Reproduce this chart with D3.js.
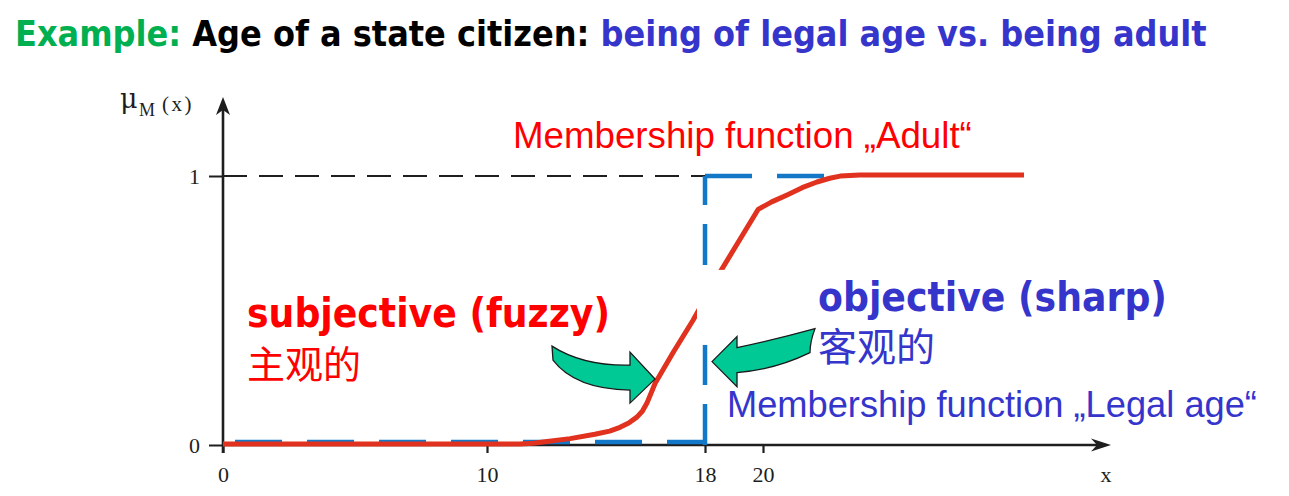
<!DOCTYPE html>
<html><head><meta charset="utf-8">
<script src="https://cdn.jsdelivr.net/npm/d3@7"></script>
<style>body{margin:0;background:#fff} svg{display:block} text{white-space:pre}</style>
</head><body>
<svg id="c" width="1289" height="496"></svg>
<script>
// ---- data ----
const adultX = [0, 11.2, 11.7, 12.13, 13.05, 13.96, 14.5, 14.88, 15.2, 15.5, 15.7, 15.87, 16.17, 16.83, 17.56, 18.52, 19.83, 20.3, 20.83, 21.35, 21.86, 22.3, 22.66, 23.34, 29];
const adultY = [0, 0, 0.003, 0.008, 0.02, 0.036, 0.048, 0.062, 0.078, 0.1, 0.122, 0.152, 0.226, 0.34, 0.46, 0.639, 0.872, 0.9, 0.926, 0.953, 0.974, 0.988, 0.996, 1, 1];
const legalX = [0, 18, 18, 22.3];
const legalY = [0, 0, 1, 1];
const xTicks = [0, 10, 18, 20];
const yTicks = [0, 1];
const legalAge = 18;
const titleParts = ["Example: ", "Age of a state citizen: ", "being of legal age vs. being adult"];

// ---- layout ----
const svg = d3.select("#c");
const xs = d3.scaleLinear().domain([0, 10, 18, 20]).range([223, 487, 705, 763]);
const ys = d3.scaleLinear().domain([0, 1]).range([445, 176]);
const AX = "#1e1e1e";
const RED = "#E0321E", BLUE = "#1478C8", TXT_BLUE = "#3535CC", TXT_RED = "#FF0000";
const BOLD = "'DejaVu Sans Condensed', 'DejaVu Sans', Verdana, sans-serif";
const SANS = "'Liberation Sans', Arial, sans-serif";
const SERIF = "'Liberation Serif', 'Times New Roman', serif";
const CJK = "'Noto Sans CJK SC', sans-serif";

function fit(sel, width) {
  const w = sel.node().getComputedTextLength();
  const fs = parseFloat(sel.attr("font-size"));
  sel.attr("font-size", fs * width / w);
  return sel;
}

// title
const title = svg.append("text").attr("x", 15).attr("y", 46)
  .attr("font-family", BOLD).attr("font-weight", "bold").attr("font-size", 32);
const tcols = ["#00B050", "#000000", TXT_BLUE];
titleParts.forEach((t, i) => title.append("tspan").attr("fill", tcols[i]).text(t));
fit(title, 1192);

// x axis
const gx = svg.append("g").attr("transform", `translate(0,${ys(0)})`)
  .call(d3.axisBottom(xs).tickValues(xTicks).tickSize(8).tickPadding(13).tickFormat(d3.format("d")));
gx.select(".domain").remove();
gx.selectAll(".tick line").attr("stroke", AX).attr("stroke-width", 2.2);
gx.selectAll(".tick text").attr("font-family", SERIF).attr("font-size", 22).attr("fill", AX);

// y axis
const gy = svg.append("g").attr("transform", `translate(${xs(0)},0)`)
  .call(d3.axisLeft(ys).tickValues(yTicks).tickSize(14).tickPadding(9).tickFormat(d3.format("d")));
gy.select(".domain").remove();
gy.selectAll(".tick line").attr("stroke", AX).attr("stroke-width", 2);
gy.selectAll(".tick text").attr("font-family", SERIF).attr("font-size", 22).attr("fill", AX);

// axis lines with arrows
const xEnd = 32, yEnd = 1.294;
svg.append("line").attr("x1", xs(0)).attr("x2", xs(xEnd) - 10).attr("y1", ys(0)).attr("y2", ys(0))
  .attr("stroke", AX).attr("stroke-width", 2.4);
svg.append("path").attr("fill", AX)
  .attr("d", `M${xs(xEnd)},${ys(0)} L${xs(xEnd) - 20},${ys(0) - 6.5} L${xs(xEnd) - 14},${ys(0)} L${xs(xEnd) - 20},${ys(0) + 6.5}Z`);
svg.append("line").attr("x1", xs(0)).attr("x2", xs(0)).attr("y1", ys(0) + 8).attr("y2", ys(yEnd) + 10)
  .attr("stroke", AX).attr("stroke-width", 2.6);
svg.append("path").attr("fill", AX)
  .attr("d", `M${xs(0)},${ys(yEnd)} L${xs(0) - 7},${ys(yEnd) + 18} L${xs(0)},${ys(yEnd) + 13} L${xs(0) + 7},${ys(yEnd) + 18}Z`);

// y axis label  mu_M(x)
const yl = svg.append("g");
yl.append("text").attr("x", 120).attr("y", 108).attr("font-family", "'DejaVu Serif', serif").attr("font-size", 27).attr("fill", AX).text("μ");
yl.append("text").attr("x", 139).attr("y", 116).attr("font-family", SERIF).attr("font-size", 18).attr("fill", AX).text("M");
yl.append("text").attr("x", 162).attr("y", 111).attr("font-family", SERIF).attr("font-size", 21)
  .attr("letter-spacing", 2.5).attr("fill", AX).text("(x)");
// x axis label
svg.append("text").attr("x", xs(xEnd) - 5).attr("y", 482).attr("text-anchor", "middle")
  .attr("font-family", SERIF).attr("font-size", 22).attr("fill", AX).text("x");

// dashed reference at membership 1
svg.append("line").attr("x1", xs(0)).attr("x2", xs(legalAge)).attr("y1", ys(1)).attr("y2", ys(1))
  .attr("stroke", AX).attr("stroke-width", 2).attr("stroke-dasharray", "24,12");

// legal age (crisp) membership – dashed blue
const dashes = [["47,25", 60, -3], ["41,19", 0, 0], ["47,25", 0, 0]];
for (let i = 0; i < legalX.length - 1; i++) {
  svg.append("line")
    .attr("transform", `translate(0,${dashes[i][2]})`)
    .attr("x1", xs(legalX[i])).attr("y1", ys(legalY[i]))
    .attr("x2", xs(legalX[i + 1])).attr("y2", ys(legalY[i + 1]))
    .attr("stroke", BLUE).attr("stroke-width", 4.5)
    .attr("stroke-dasharray", dashes[i][0]).attr("stroke-dashoffset", dashes[i][1]);
}

// adult (fuzzy) membership – red curve
const line = d3.line().x(d => xs(d[0])).y(d => ys(d[1])).curve(d3.curveLinear);
svg.append("path").datum(adultX.map((x, i) => [x, adultY[i]]))
  .attr("transform", "translate(0,-1)")
  .attr("d", line).attr("fill", "none").attr("stroke", RED).attr("stroke-width", 5)
  .attr("stroke-linejoin", "round");

// white occluder (as in the original slide)
svg.append("rect").attr("x", xs(legalAge) - 8).attr("width", 30)
  .attr("y", ys(0.651)).attr("height", ys(0.372) - ys(0.651)).attr("fill", "#fff");

// green block arrows
const GREEN = "#00C995";
const lt = [xs(legalAge) - 50, ys(0.245)];
svg.append("path").attr("transform", `translate(${lt[0]},${lt[1]})`)
  .attr("d", "M-103,-33 Q-72,-13 -25,-14 L-25,-27 L0,0 L-25,24 L-25,11 Q-80,10 -102,-19 Z")
  .attr("fill", GREEN).attr("stroke", "#1a1a1a").attr("stroke-width", 1.3).attr("stroke-linejoin", "miter");
const rt = [xs(legalAge) + 7, ys(0.31)];
svg.append("path").attr("transform", `translate(${rt[0]},${rt[1]})`)
  .attr("d", "M0,0 L25,-25 L25,-14 Q63,-22 103,-33 Q98,-20 98,-9 Q63,8 25,11 L25,25 Z")
  .attr("fill", GREEN).attr("stroke", "#1a1a1a").attr("stroke-width", 1.3).attr("stroke-linejoin", "miter");

// annotations
fit(svg.append("text").attr("x", 513).attr("y", 148).attr("font-family", SANS).attr("font-size", 36)
  .attr("fill", TXT_RED).text("Membership function \u201EAdult\u201C"), 459);
fit(svg.append("text").attr("x", 247).attr("y", 327).attr("font-family", BOLD).attr("font-weight", "bold").attr("font-size", 34)
  .attr("fill", TXT_RED).text("subjective (fuzzy)"), 363);
svg.append("text").attr("x", 247).attr("y", 378).attr("font-family", CJK).attr("font-size", 38)
  .attr("fill", TXT_RED).text("主观的");
fit(svg.append("text").attr("x", 818).attr("y", 311).attr("font-family", BOLD).attr("font-weight", "bold").attr("font-size", 34)
  .attr("fill", TXT_BLUE).text("objective (sharp)"), 349);
svg.append("text").attr("x", 818).attr("y", 361).attr("font-family", CJK).attr("font-size", 39)
  .attr("fill", TXT_BLUE).text("客观的");
fit(svg.append("text").attr("x", 727).attr("y", 417).attr("font-family", SANS).attr("font-size", 36)
  .attr("fill", TXT_BLUE).text("Membership function \u201ELegal age\u201C"), 530);
</script>
</body></html>
